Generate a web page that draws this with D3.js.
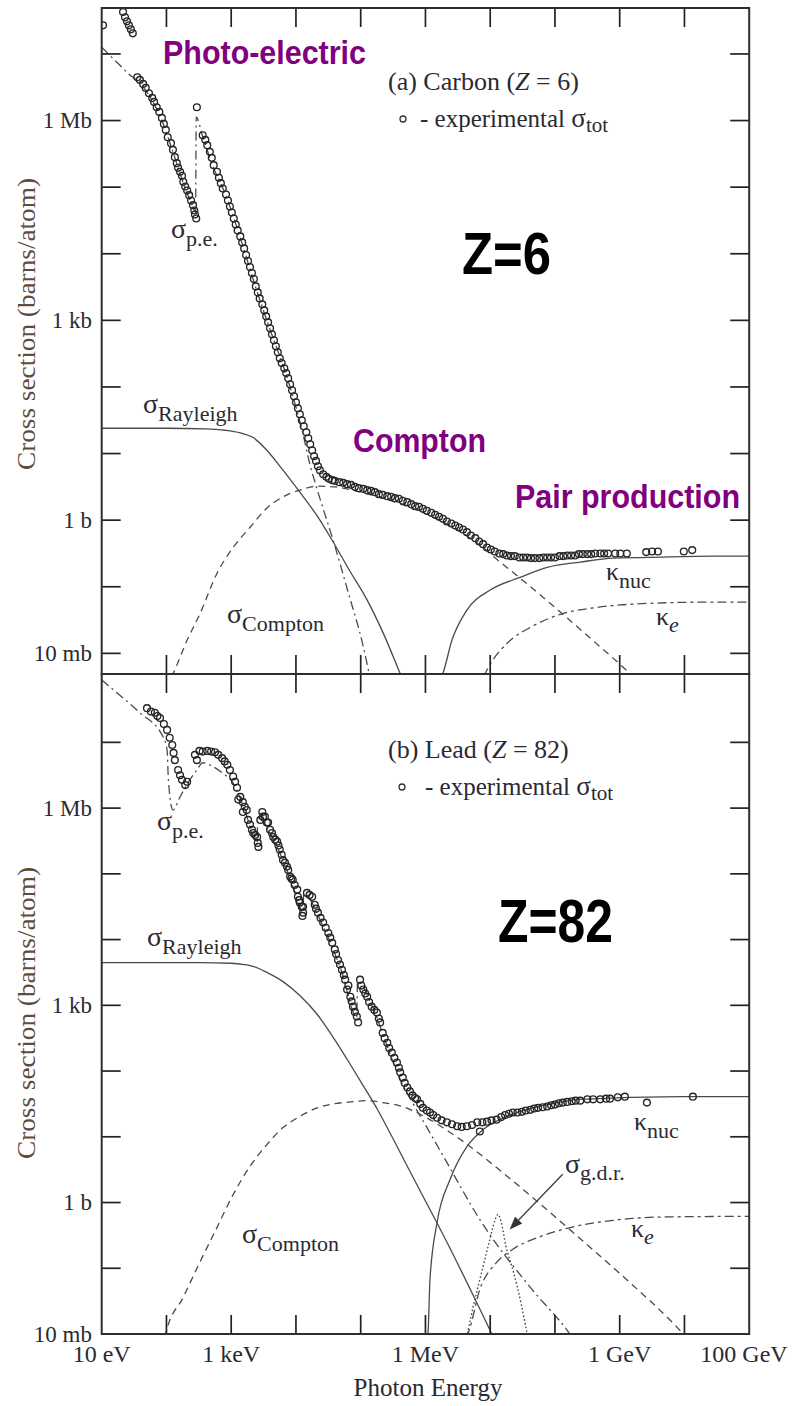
<!DOCTYPE html>
<html>
<head>
<meta charset="utf-8">
<script src="https://cdn.jsdelivr.net/npm/d3@7"></script>
<style>
  html, body { margin: 0; padding: 0; background: #fff; }
  svg { display: block; }
</style>
</head>
<body>
<svg id="chart" width="792" height="1406"></svg>
<script>
// All series are pairs of exponents: [log10(E / eV), log10(sigma / barn)]

// ---------- Carbon (Z = 6) ----------
const carbonTotal = [
  [1.02,7.43],[1.33,7.63],[1.36,7.55],[1.39,7.49],[1.42,7.43],[1.45,7.37],[1.48,7.31],
  [1.55,6.65],[1.59,6.61],[1.64,6.55],[1.68,6.49],[1.73,6.41],[1.78,6.34],[1.81,6.28],[1.85,6.20],
  [1.89,6.13],[1.93,6.04],[1.96,5.95],[1.99,5.86],[2.02,5.75],[2.07,5.66],[2.10,5.56],[2.13,5.45],
  [2.16,5.36],[2.18,5.29],[2.21,5.23],[2.24,5.17],[2.26,5.08],[2.29,5.01],[2.32,4.95],[2.35,4.88],
  [2.38,4.80],[2.41,4.73],[2.43,4.65],[2.44,4.59],[2.46,4.53],
  [2.47,6.20],[2.56,5.78],[2.60,5.71],[2.63,5.63],[2.67,5.53],[2.70,5.44],[2.73,5.33],[2.78,5.23],
  [2.81,5.14],[2.84,5.06],[2.87,4.98],[2.92,4.89],[2.95,4.80],[2.98,4.71],[3.01,4.62],[3.04,4.53],
  [3.07,4.44],[3.10,4.35],[3.14,4.26],[3.17,4.17],[3.20,4.08],[3.23,3.98],[3.26,3.89],[3.29,3.80],
  [3.32,3.71],[3.35,3.62],[3.38,3.51],[3.41,3.42],[3.44,3.33],[3.48,3.24],[3.51,3.15],[3.54,3.06],
  [3.57,2.97],[3.60,2.88],[3.63,2.79],[3.66,2.70],[3.69,2.61],[3.72,2.52],[3.75,2.43],[3.78,2.36],
  [3.82,2.28],[3.85,2.21],[3.88,2.13],[3.91,2.04],[3.94,1.95],[3.97,1.86],[4.00,1.77],[4.03,1.68],
  [4.06,1.59],[4.09,1.50],[4.12,1.41],[4.16,1.32],[4.19,1.23],[4.22,1.14],[4.25,1.05],[4.28,0.96],
  [4.31,0.89],[4.34,0.81],[4.37,0.75],[4.42,0.69],[4.47,0.65],[4.51,0.62],[4.56,0.60],[4.60,0.59],
  [4.67,0.57],[4.73,0.56],[4.79,0.54],[4.85,0.53],[4.91,0.50],[4.97,0.48],[5.04,0.47],[5.10,0.45],
  [5.16,0.44],[5.22,0.42],[5.28,0.39],[5.34,0.38],[5.41,0.36],[5.47,0.35],[5.53,0.33],[5.59,0.32],
  [5.65,0.29],[5.72,0.27],[5.78,0.24],[5.84,0.21],[5.90,0.20],[5.96,0.17],[6.02,0.14],[6.09,0.11],
  [6.15,0.08],[6.21,0.05],[6.27,0.02],[6.33,-0.02],[6.40,-0.05],[6.46,-0.08],[6.52,-0.11],[6.58,-0.14],
  [6.64,-0.18],[6.70,-0.23],[6.77,-0.27],[6.83,-0.32],[6.89,-0.36],[6.95,-0.41],[7.01,-0.44],[7.07,-0.47],
  [7.14,-0.50],[7.20,-0.51],[7.26,-0.53],[7.32,-0.54],[7.38,-0.54],[7.45,-0.56],[7.51,-0.56],[7.57,-0.56],
  [7.63,-0.57],[7.69,-0.57],[7.76,-0.57],[7.82,-0.56],[7.88,-0.56],[7.94,-0.56],[8.00,-0.56],[8.07,-0.54],
  [8.13,-0.54],[8.19,-0.53],[8.25,-0.53],[8.31,-0.53],[8.37,-0.51],[8.43,-0.51],[8.50,-0.51],[8.56,-0.51],
  [8.62,-0.50],[8.70,-0.50],[8.76,-0.50],[8.82,-0.50],[8.93,-0.50],[9.01,-0.50],[9.11,-0.50],
  [9.41,-0.48],[9.50,-0.47],[9.59,-0.47],[9.99,-0.47],[10.12,-0.45]
];
const carbonPhotoelectric = [
  [1.0,7.10],[1.25,6.86],[1.44,6.68],[1.55,6.60],[1.73,6.38],[1.93,6.00],[2.10,5.53],[2.29,4.98],
  [2.41,4.70],[2.45,4.62],[2.46,6.05],[2.56,5.76],[2.72,5.31],[2.92,4.87],[3.14,4.24],[3.38,3.49],
  [3.60,2.86],[3.82,2.27],[4.00,1.70],[4.10,1.33],[4.22,0.82],[4.30,0.55],[4.45,0.08],[4.58,-0.32],
  [4.80,-1.06],[5.04,-1.90],[5.14,-2.35]
];
const carbonRayleigh = [
  [1.0,1.38],[2.0,1.38],[2.6,1.37],[2.9,1.35],[3.14,1.31],[3.34,1.24],[3.55,1.05],[3.80,0.75],
  [4.06,0.42],[4.33,0.06],[4.57,-0.32],[4.83,-0.76],[5.10,-1.20],[5.35,-1.70],[5.60,-2.28],[5.63,-2.35]
];
const carbonCompton = [
  [2.08,-2.35],[2.10,-2.31],[2.32,-1.80],[2.52,-1.40],[2.78,-0.80],[3.03,-0.41],[3.29,-0.11],
  [3.55,0.18],[3.80,0.35],[4.06,0.45],[4.33,0.51],[4.60,0.50],[5.00,0.42],[5.50,0.28],[6.00,0.10],
  [6.50,-0.15],[6.85,-0.38],[7.08,-0.57],[7.46,-0.87],[7.77,-1.12],[8.19,-1.47],[8.59,-1.81],
  [9.01,-2.17],[9.20,-2.34]
];
const carbonKappaNuc = [
  [6.25,-2.35],[6.27,-2.30],[6.41,-1.80],[6.64,-1.35],[7.00,-1.05],[7.46,-0.86],[7.88,-0.71],
  [8.39,-0.63],[8.90,-0.57],[9.43,-0.56],[10.45,-0.54],[11.0,-0.54]
];
const carbonKappaE = [
  [6.90,-2.35],[6.95,-2.25],[7.26,-1.85],[7.62,-1.61],[8.13,-1.40],[8.65,-1.31],[9.43,-1.25],
  [10.44,-1.23],[11.0,-1.23]
];

// ---------- Lead (Z = 82) ----------
const leadTotal = [
  [1.70,7.52],[1.76,7.47],[1.82,7.45],[1.86,7.40],[1.90,7.37],[1.96,7.28],[2.01,7.19],[2.05,7.07],
  [2.09,6.96],[2.11,6.84],[2.13,6.73],[2.18,6.58],[2.21,6.50],[2.24,6.43],[2.29,6.35],[2.32,6.40],
  [2.44,6.81],[2.47,6.73],[2.51,6.87],[2.56,6.86],[2.63,6.87],[2.69,6.86],[2.75,6.85],[2.80,6.81],
  [2.86,6.76],[2.90,6.71],[2.94,6.66],[2.98,6.58],[3.03,6.48],[3.06,6.40],[3.09,6.31],[3.11,6.13],
  [3.14,6.17],[3.18,6.09],[3.18,5.94],[3.21,6.02],[3.24,5.97],[3.26,5.82],[3.29,5.75],[3.32,5.67],
  [3.34,5.62],[3.37,5.59],[3.40,5.56],[3.41,5.47],[3.42,5.41],
  [3.45,5.82],[3.48,5.94],[3.49,5.87],[3.52,5.87],[3.55,5.78],[3.57,5.78],[3.60,5.67],[3.63,5.62],
  [3.65,5.56],[3.68,5.52],[3.71,5.49],[3.73,5.43],[3.75,5.37],[3.78,5.29],[3.80,5.21],[3.83,5.17],
  [3.86,5.11],[3.88,5.06],[3.91,4.96],[3.93,4.93],[3.95,4.91],[3.98,4.83],[4.02,4.76],[4.03,4.65],
  [4.05,4.60],[4.06,4.56],[4.09,4.50],[4.11,4.41],[4.11,4.50],[4.10,4.36],
  [4.17,4.71],[4.21,4.68],[4.25,4.65],[4.29,4.53],[4.31,4.47],[4.34,4.41],[4.38,4.33],[4.42,4.26],
  [4.46,4.18],[4.50,4.10],[4.53,4.03],[4.56,3.95],[4.60,3.85],[4.62,3.78],[4.65,3.69],[4.68,3.62],
  [4.71,3.54],[4.74,3.46],[4.76,3.39],[4.79,3.24],[4.81,3.30],[4.84,3.13],[4.86,3.06],[4.88,2.98],
  [4.91,2.90],[4.94,2.83],[4.96,2.74],
  [4.99,3.39],[5.01,3.30],[5.04,3.24],[5.07,3.18],[5.10,3.13],[5.13,3.05],[5.17,2.98],[5.21,2.93],
  [5.25,2.89],[5.28,2.80],[5.30,2.74],[5.34,2.58],[5.37,2.50],[5.41,2.43],[5.44,2.35],[5.48,2.28],
  [5.52,2.20],[5.56,2.13],[5.59,2.05],[5.61,1.98],[5.65,1.90],[5.68,1.82],[5.72,1.75],[5.76,1.69],
  [5.80,1.63],[5.84,1.59],[5.87,1.57],[5.92,1.50],[5.96,1.44],[6.02,1.40],[6.07,1.37],[6.12,1.33],
  [6.18,1.29],[6.25,1.25],[6.33,1.22],[6.41,1.19],[6.49,1.16],[6.56,1.15],[6.64,1.16],[6.72,1.18],
  [6.80,1.22],[6.84,1.08],[6.88,1.22],[6.95,1.23],[7.02,1.25],[7.10,1.26],[7.17,1.30],[7.23,1.33],
  [7.29,1.35],[7.35,1.37],[7.42,1.37],[7.49,1.38],[7.55,1.40],[7.62,1.41],[7.68,1.43],[7.74,1.44],
  [7.81,1.45],[7.88,1.46],[7.94,1.48],[8.00,1.49],[8.06,1.51],[8.12,1.52],[8.19,1.53],[8.26,1.54],
  [8.32,1.55],[8.39,1.55],[8.50,1.57],[8.59,1.57],[8.70,1.57],[8.79,1.58],[8.85,1.58],[8.97,1.60],
  [9.08,1.61],[9.42,1.52],[10.13,1.61]
];
const leadPhotoelectric = [
  [1.0,7.95],[1.24,7.75],[1.59,7.45],[1.95,7.08],[2.01,6.88],[2.03,6.43],[2.10,5.97],[2.21,6.17],
  [2.36,6.43],[2.47,6.58],[2.56,6.69],[2.72,6.63],[2.87,6.53],[3.03,6.38],[3.20,6.00],[3.40,5.48],
  [3.41,5.85],[3.60,5.62],[3.90,4.96],[4.11,4.42],[4.12,4.70],[4.40,4.24],[4.70,3.53],[4.94,2.82],
  [4.95,3.36],[5.20,2.94],[5.40,2.40],[5.61,1.87],[5.80,1.52],[6.00,1.18],[6.33,0.61],[6.84,-0.26],
  [7.61,-1.28],[8.23,-2.00],[8.30,-2.10]
];
const leadRayleigh = [
  [1.0,3.65],[2.5,3.65],[3.0,3.64],[3.2,3.62],[3.35,3.59],[3.55,3.50],[3.80,3.36],[4.06,3.15],
  [4.33,2.86],[4.57,2.52],[4.84,2.10],[5.05,1.76],[5.25,1.43],[5.50,0.97],[5.81,0.38],[6.33,-0.60],
  [6.84,-1.62],[7.05,-2.05]
];
const leadCompton = [
  [1.98,-2.05],[1.99,-1.99],[2.26,-1.44],[2.52,-0.90],[2.78,-0.38],[3.03,0.12],[3.29,0.55],
  [3.55,0.88],[3.80,1.14],[4.06,1.31],[4.33,1.44],[4.57,1.50],[4.84,1.53],[5.10,1.55],[5.34,1.52],
  [5.61,1.47],[6.00,1.30],[6.30,1.12],[6.58,0.93],[7.36,0.32],[8.39,-0.55],[9.16,-1.22],
  [9.83,-1.84],[10.03,-2.05]
];
const leadKappaNuc = [
  [6.03,-2.05],[6.04,-1.98],[6.07,-1.17],[6.18,-0.30],[6.38,0.35],[6.64,0.85],[6.89,1.11],
  [7.26,1.31],[7.88,1.49],[8.39,1.57],[9.93,1.61],[11.0,1.61]
];
const leadKappaE = [
  [6.62,-2.05],[6.66,-1.98],[6.84,-1.32],[7.10,-0.91],[7.35,-0.71],[7.77,-0.52],[8.28,-0.37],
  [8.90,-0.27],[9.67,-0.22],[11.0,-0.21]
];
const leadGiantDipole = [
  [6.64,-2.05],[6.70,-1.75],[6.84,-1.17],[6.98,-0.62],[7.07,-0.28],[7.12,-0.18],[7.17,-0.30],
  [7.24,-0.65],[7.36,-1.06],[7.48,-1.55],[7.58,-2.05]
];
// arrow pointing at the giant dipole resonance peak: [start, tip]
const gdrArrow = [[8.12,0.43],[7.30,-0.41]];

// ---------- axes ----------
const energyTickExponents = [1,2,3,4,5,6,7,8,9,10,11];
const energyTickLabels = [[1,"10 eV"],[3,"1 keV"],[6,"1 MeV"],[9,"1 GeV"],[11,"100 GeV"]];
const sigmaTickLabels = [[6,"1 Mb"],[3,"1 kb"],[0,"1 b"],[-2,"10 mb"]];

const SERIF = "'Liberation Serif','Times New Roman',serif";
const SANS = "'Liberation Sans',Arial,sans-serif";
const INK = "#2a2a33";
const CURVE = "#4a4a4a";

const svg = d3.select("#chart");
svg.append("rect").attr("width", 792).attr("height", 1406).attr("fill", "#fff");

const left = 101.7, right = 749.2;
const x = d3.scaleLog().domain([1e1, 1e11]).range([left, right]);
const p10 = v => Math.pow(10, v);

const styles = {
  solid:   { dash: null },
  compton: { dash: "7,5" },
  pe:      { dash: "9,4,2,4" },
  kappaE:  { dash: "9,4,3,4" },
  dotted:  { dash: "1.6,2.2" }
};

const panels = [
  {
    id: "carbon", top: 8, bottom: 674, yDomain: [p10(-2.31), p10(7.69)],
    total: carbonTotal,
    curves: [
      [carbonRayleigh, "solid"], [carbonCompton, "compton"], [carbonPhotoelectric, "pe"],
      [carbonKappaNuc, "solid"], [carbonKappaE, "kappaE"]
    ]
  },
  {
    id: "lead", top: 674, bottom: 1334, yDomain: [p10(-2), p10(8.04)],
    total: leadTotal,
    curves: [
      [leadRayleigh, "solid"], [leadCompton, "compton"], [leadPhotoelectric, "pe"],
      [leadKappaNuc, "solid"], [leadKappaE, "kappaE"], [leadGiantDipole, "dotted"]
    ]
  }
];

panels.forEach(p => {
  const y = d3.scaleLog().domain(p.yDomain).range([p.bottom, p.top]);
  p.y = y;
  const g = svg.append("g").attr("class", "panel-" + p.id);

  g.append("clipPath").attr("id", "clip-" + p.id)
    .append("rect").attr("x", left).attr("y", p.top)
    .attr("width", right - left).attr("height", p.bottom - p.top);

  const plot = g.append("g").attr("clip-path", `url(#clip-${p.id})`);

  const line = d3.line()
    .x(d => x(p10(d[0])))
    .y(d => y(p10(d[1])))
    .curve(d3.curveMonotoneX);

  p.curves.forEach(([data, kind]) => {
    plot.append("path")
      .attr("d", line(data))
      .attr("fill", "none")
      .attr("stroke", CURVE)
      .attr("stroke-width", kind === "dotted" ? 1.4 : 1.3)
      .attr("stroke-dasharray", styles[kind].dash);
  });

  plot.selectAll("circle.exp").data(p.total).enter().append("circle")
    .attr("class", "exp")
    .attr("cx", d => x(p10(d[0])))
    .attr("cy", d => y(p10(d[1])))
    .attr("r", 3.4)
    .attr("fill", "none")
    .attr("stroke", "#242424")
    .attr("stroke-width", 1.35);

  // inward ticks on all four sides
  const tickLen = 19;
  const ticks = g.append("g").attr("stroke", "#222").attr("stroke-width", 1.7);
  energyTickExponents.filter(k => k > 1 && k < 11).forEach(k => {
    const xx = x(p10(k));
    ticks.append("line").attr("x1", xx).attr("x2", xx).attr("y1", p.top).attr("y2", p.top + tickLen);
    ticks.append("line").attr("x1", xx).attr("x2", xx).attr("y1", p.bottom).attr("y2", p.bottom - tickLen);
  });
  const lo = Math.ceil(Math.log10(p.yDomain[0])), hi = Math.floor(Math.log10(p.yDomain[1]));
  d3.range(lo, hi + 1).forEach(k => {
    const yy = y(p10(k));
    if (yy > p.bottom - 3 || yy < p.top + 3) return;
    ticks.append("line").attr("x1", left).attr("x2", left + tickLen).attr("y1", yy).attr("y2", yy);
    ticks.append("line").attr("x1", right).attr("x2", right - tickLen).attr("y1", yy).attr("y2", yy);
  });

  // frame
  g.append("rect").attr("x", left).attr("y", p.top)
    .attr("width", right - left).attr("height", p.bottom - p.top)
    .attr("fill", "none").attr("stroke", "#2e2e2e").attr("stroke-width", 2);

  // y tick labels
  sigmaTickLabels.forEach(([k, txt]) => {
    const yy = y(p10(k));
    g.append("text").attr("x", 92).attr("y", yy).attr("dy", "0.34em")
      .attr("text-anchor", "end").attr("font-family", SERIF).attr("font-size", 23)
      .attr("fill", INK).text(txt);
  });

  // y axis title
  const midY = p.id === "carbon" ? 324 : 1013;
  g.append("text")
    .attr("transform", `translate(35,${midY}) rotate(-90)`)
    .attr("text-anchor", "middle").attr("font-family", SERIF).attr("font-size", 26)
    .attr("fill", "#5e4c3c").attr("textLength", 292).attr("lengthAdjust", "spacingAndGlyphs")
    .text("Cross section  (barns/atom)");
});

// x tick labels and title (below the lower panel)
energyTickLabels.forEach(([k, txt]) => {
  let xx = x(p10(k));
  if (k === 11) xx = 744;
  svg.append("text").attr("x", xx).attr("y", 1362).attr("text-anchor", "middle")
    .attr("font-family", SERIF).attr("font-size", 24).attr("fill", INK).text(txt);
});
svg.append("text").attr("x", 428).attr("y", 1396).attr("text-anchor", "middle")
  .attr("font-family", SERIF).attr("font-size", 25).attr("fill", INK).text("Photon Energy");

// curve labels: symbol with subscript
function symbolLabel(px, py, sym, sub, opts = {}) {
  const t = svg.append("text").attr("x", px).attr("y", py)
    .attr("font-family", SERIF).attr("fill", INK);
  t.append("tspan").attr("font-size", opts.symSize || 28).text(sym);
  t.append("tspan").attr("font-size", opts.subSize || 22).attr("dy", opts.dy || 8)
    .attr("font-style", opts.italic ? "italic" : null).text(sub);
}
// carbon panel
symbolLabel(171, 238, "σ", "p.e.");
symbolLabel(143, 413, "σ", "Rayleigh");
symbolLabel(227, 623, "σ", "Compton");
symbolLabel(606, 580, "κ", "nuc", { symSize: 26 });
symbolLabel(656, 625, "κ", "e", { symSize: 26, italic: true, dy: 7 });
// lead panel
symbolLabel(157, 830, "σ", "p.e.");
symbolLabel(147, 946, "σ", "Rayleigh");
symbolLabel(242, 1243, "σ", "Compton");
symbolLabel(634, 1130, "κ", "nuc", { symSize: 26 });
symbolLabel(565, 1173, "σ", "g.d.r.", { dy: 7 });
symbolLabel(631, 1237, "κ", "e", { symSize: 26, italic: true, dy: 7 });

// arrow to the g.d.r. peak
{
  const yL = panels[1].y;
  const [a, b] = gdrArrow;
  const x1 = x(p10(a[0])), y1 = yL(p10(a[1]));
  const x2 = x(p10(b[0])), y2 = yL(p10(b[1]));
  const ang = Math.atan2(y2 - y1, x2 - x1);
  const headL = 13, headW = 5;
  const bx = x2 - headL * Math.cos(ang), by = y2 - headL * Math.sin(ang);
  svg.append("line").attr("x1", x1).attr("y1", y1).attr("x2", bx).attr("y2", by)
    .attr("stroke", "#444").attr("stroke-width", 1.4);
  const nx = -Math.sin(ang), ny = Math.cos(ang);
  svg.append("path")
    .attr("d", `M${x2},${y2} L${bx + nx * headW},${by + ny * headW} L${bx - nx * headW},${by - ny * headW} Z`)
    .attr("fill", "#333");
}

// legends
function legend(py, name, zText) {
  const t = svg.append("text").attr("x", 388).attr("y", py)
    .attr("font-family", SERIF).attr("font-size", 26).attr("fill", INK);
  t.append("tspan").text(name + " (");
  t.append("tspan").attr("font-style", "italic").text("Z");
  t.append("tspan").text(" = " + zText + ")");
}
function expLegend(cx, cy, tx, ty) {
  svg.append("circle").attr("cx", cx).attr("cy", cy).attr("r", 3)
    .attr("fill", "none").attr("stroke", "#333").attr("stroke-width", 1.3);
  const t = svg.append("text").attr("x", tx).attr("y", ty)
    .attr("font-family", SERIF).attr("font-size", 25).attr("fill", INK);
  t.append("tspan").text("- experimental ");
  t.append("tspan").attr("font-size", 27).text("σ");
  t.append("tspan").attr("font-size", 21).attr("dy", 5).text("tot");
}
legend(90, "(a) Carbon", "6");
expLegend(403, 119, 420, 127);
legend(758, "(b) Lead", "82");
expLegend(402, 787, 425, 795);

// process and Z annotations
function bigText(px, py, txt, color, size, len) {
  svg.append("text").attr("x", px).attr("y", py)
    .attr("font-family", SANS).attr("font-weight", "bold").attr("font-size", size)
    .attr("fill", color).attr("textLength", len).attr("lengthAdjust", "spacingAndGlyphs")
    .text(txt);
}
const PURPLE = "#800080";
bigText(163, 64, "Photo-electric", PURPLE, 33, 203);
bigText(353, 452, "Compton", PURPLE, 33, 133);
bigText(515, 508, "Pair production", PURPLE, 33, 225);
bigText(462, 274, "Z=6", "#000", 60, 89);
bigText(498, 942, "Z=82", "#000", 62, 115);
</script>
</body>
</html>
